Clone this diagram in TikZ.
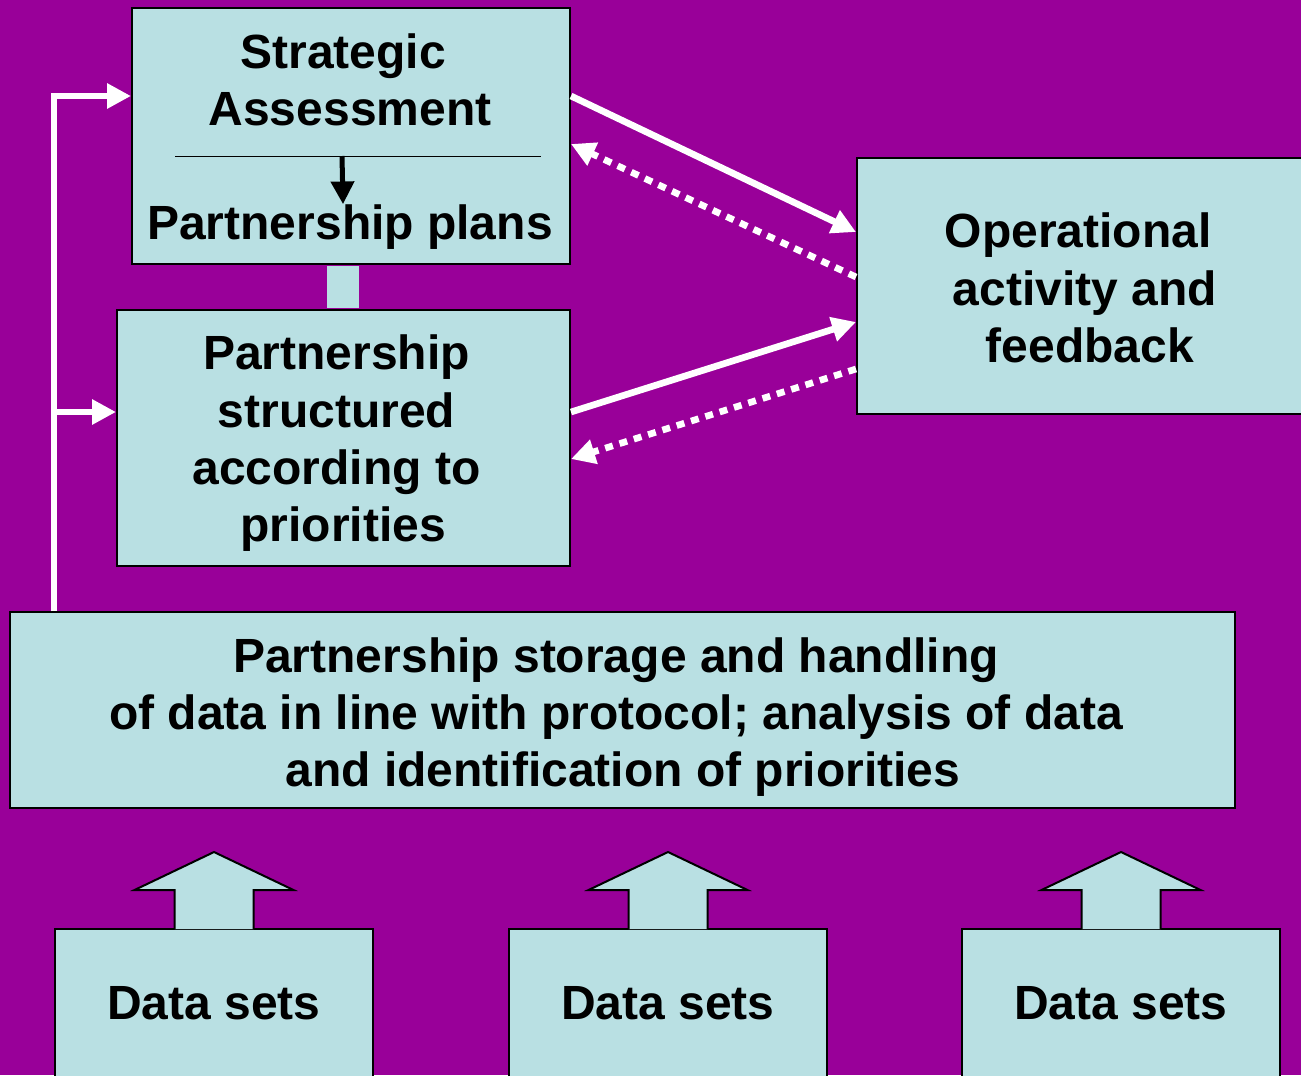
\documentclass[tikz,border=0pt]{standalone}
\usepackage{fontspec}
\setmainfont{Liberation Sans}
\usetikzlibrary{arrows.meta,calc}

\definecolor{slidepurple}{RGB}{153,0,153}
\definecolor{boxblue}{RGB}{185,224,227}

\tikzset{every picture/.style={line width=0.75pt}}
\tikzset{
	box/.style={draw=black, line width=1.5pt, fill=boxblue, inner sep=0pt},
	boxtext/.style={inner sep=0pt, align=center, font=\fontsize{36}{43}\selectfont\bfseries},
	feed/.style={draw=white, line width=5pt, -{Triangle[length=18pt,width=18pt]}},
	back/.style={feed, dash pattern=on 6pt off 5.25pt},
	blockup/.style={draw=black, line width=1.5pt, fill=boxblue},
}

\begin{document}
\begin{tikzpicture}[x=0.75pt,y=0.75pt,yscale=-1,xscale=1]
	%Background
	\fill[slidepurple] (0,0) rectangle (1301,1075);
	\useasboundingbox (0,0) rectangle (1301,1075);

	%Shape: Rectangle [strategic assessment]
	\node[box, minimum width=328.5pt, minimum height=192pt] (assess) at (351,136) {};
	%Shape: Rectangle [partnership structure]
	\node[box, minimum width=339.75pt, minimum height=192pt] (struct) at (343.5,438) {};
	%Shape: Rectangle [operational activity]
	\node[box, minimum width=337.5pt, minimum height=192pt] (oper) at (1082,286) {};
	%Shape: Rectangle [storage and handling]
	\node[box, minimum width=918.75pt, minimum height=147pt] (store) at (622.5,710) {};
	%Shape: Rectangle [data sets]
	\node[box, boxtext, minimum width=238.5pt, minimum height=111pt] (dataA) at (214,1003) {Data sets};
	\node[box, boxtext, minimum width=238.5pt, minimum height=111pt] (dataB) at (668,1003) {Data sets};
	\node[box, boxtext, minimum width=238.5pt, minimum height=111pt] (dataC) at (1121,1003) {Data sets};

	% Text Node
	\node[boxtext] (assesstitle) at (350,80) {Strategic\hspace*{0.28em}\\Assessment};
	% Text Node
	\node[boxtext] (plans) at (350,227) {Partnership plans};
	% Text Node
	\node[boxtext] (structtext) at (336.5,443.5) {Partnership\\structured\\according to\\\hspace*{0.28em}priorities};
	% Text Node
	\node[boxtext] (opertext) at (1078,288) {Operational\\\hspace*{0.28em}activity and\\\hspace*{0.5em}feedback};
	% Text Node
	\node[boxtext] (storetext) at (616,717) {Partnership storage and handling\\of data in line with protocol; analysis of data\\\hspace*{0.28em}and identification of priorities};

	%Straight Lines [divider]
	\draw ($(assess.north west)+(44,149)$) -- ($(assess.north east)+(-30,149)$);
	%Straight Lines [down arrow]
	\draw[line width=3.75pt, -{Triangle[length=17pt,width=17pt]}] ($(assess.north west)+(211,149)$) -- (plans.north -| 343,0);

	%Shape: Rectangle [link strip]
	\fill[boxblue] ($(assess.south)+(-24,1)$) rectangle ($(assess.south |- struct.north)+(8,-1)$);

	%Shape: Block arrows
	\draw[blockup] (dataA.north) ++(-39.5,1) -- ++(0,-39) -- ++(-40,0) -- ++(79.5,-38) -- ++(79.5,38) -- ++(-40,0) -- ++(0,39);
	\draw[blockup] (dataB.north) ++(-39.5,1) -- ++(0,-39) -- ++(-40,0) -- ++(79.5,-38) -- ++(79.5,38) -- ++(-40,0) -- ++(0,39);
	\draw[blockup] (dataC.north) ++(-39.5,1) -- ++(0,-39) -- ++(-40,0) -- ++(79.5,-38) -- ++(79.5,38) -- ++(-40,0) -- ++(0,39);

	%Straight Lines [feedback loop]
	\coordinate (loopfoot) at ($(store.north west)+(45,0)$);
	\coordinate (assessin) at ($(assess.north west)+(0,89)$);
	\coordinate (structin) at ($(struct.north west)+(0,103)$);
	\draw[feed] (loopfoot) |- (assessin);
	\draw[feed] (loopfoot |- structin) -- (structin);

	%Straight Lines [to and from operations]
	\draw[feed] ($(assess.north east)+(0,89)$) -- ($(oper.north west)+(0,75)$);
	\draw[back] ($(oper.north west)+(0,120)$) -- ($(assess.north east)+(0,137)$);
	\draw[feed] ($(struct.north east)+(0,103)$) -- ($(oper.north west)+(0,165)$);
	\draw[back] ($(oper.north west)+(0,212)$) -- ($(struct.north east)+(0,150)$);

\end{tikzpicture}
\end{document}
